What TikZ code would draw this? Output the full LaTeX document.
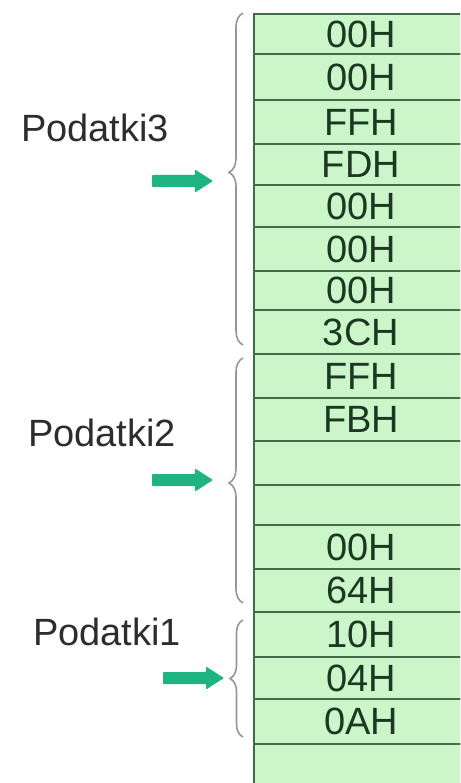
\documentclass[tikz,border=0pt]{standalone}
\usepackage{fontspec}
\setmainfont{Liberation Sans}
\usetikzlibrary{decorations.pathreplacing}

\definecolor{cellfill}{RGB}{202,246,202}
\definecolor{cellline}{RGB}{68,106,74}
\definecolor{hextext}{RGB}{28,56,34}
\definecolor{bracegray}{RGB}{150,150,150}
\definecolor{arrowgreen}{RGB}{30,180,130}
\definecolor{labeltext}{RGB}{45,45,45}

\tikzset{
  cell/.style={rectangle, draw=cellline, line width=2pt, fill=cellfill,
    inner sep=0pt, minimum width=214pt, anchor=north west,
    text=hextext, font=\fontsize{38}{40}\selectfont},
  blocklabel/.style={inner sep=0pt, text=labeltext,
    font=\fontsize{38}{40}\selectfont},
  groupbrace/.style={draw=bracegray, line width=1.6pt, decorate},
  fatarrow/.pic={
    \fill[arrowgreen, rounded corners=0.8pt]
      (0,-6) -- (43,-6) -- (43,-11.5) -- (61,0) -- (43,11.5)
      -- (43,6) -- (0,6) -- cycle;
  }
}

\begin{document}
\begin{tikzpicture}[x=1pt, y=-1pt]
\useasboundingbox (0,0) rectangle (460,783);

% memory cells, one byte per row
\begin{scope}
  \clip (0,0) rectangle (460,783);
  \foreach \i/\a/\b/\t in {
      1/13/53/00H, 2/53/99/00H, 3/99/143/FFH, 4/143/184/\raisebox{-3pt}{FDH},
      5/184/226/00H, 6/226/270/00H, 7/270/309/00H, 8/309/353/3CH,
      9/353/397/FFH, 10/397/440/FBH, 11/440/484/{}, 12/484/524/{},
      13/524/568/00H, 14/568/611/64H, 15/611/656/10H, 16/656/698/04H,
      17/698/743/0AH, 18/743/800/{}}
    \node[cell, minimum height=\b-\a] (cell\i) at (253,\a) {\t};
\end{scope}

% group labels
\node[blocklabel] (p3) at (95,128) {Podatki3};
\node[blocklabel] (p2) at (102,433) {Podatki2};
\node[blocklabel] (p1) at (107,632) {Podatki1};

% braces spanning each group
\draw[groupbrace, decoration={brace, amplitude=14pt, aspect=0.52}]
  (243,345) -- (243,13);
\draw[groupbrace, decoration={brace, amplitude=14pt, aspect=0.49}]
  (243,603) -- (243,358);
\draw[groupbrace, decoration={brace, amplitude=13pt, aspect=0.5}]
  (243,737) -- (243,620);

% pointer arrows
\pic at (152,181) {fatarrow};
\pic at (152,480) {fatarrow};
\pic at (163,678) {fatarrow};
\end{tikzpicture}
\end{document}
